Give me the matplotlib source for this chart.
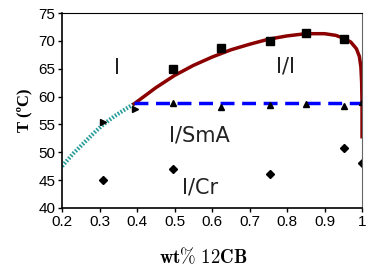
import matplotlib.pyplot as plt
from matplotlib.ticker import FuncFormatter

plt.rcParams["mathtext.fontset"] = "cm"

# measured points
sq_x = [0.495, 0.624, 0.755, 0.85, 0.952]
sq_y = [64.95, 68.7, 69.95, 71.35, 70.4]

tri_x = [0.495, 0.624, 0.755, 0.85, 0.952, 0.999]
tri_y = [58.8, 58.2, 58.5, 58.7, 58.3, 59.0]

rtri_x = [0.308, 0.395]
rtri_y = [55.4, 57.7]

dia_x = [0.31, 0.495, 0.755, 0.952, 0.999]
dia_y = [45.0, 47.0, 46.1, 50.8, 48.0]

# phase boundaries
red_x = [0.392, 0.45, 0.5, 0.55, 0.6, 0.65, 0.7, 0.75, 0.8, 0.85, 0.9, 0.93, 0.95, 0.97,
         0.985, 0.993, 0.997, 0.999, 1.0, 1.0]
red_y = [58.7, 61.6, 63.8, 65.6, 67.1, 68.4, 69.4, 70.3, 70.9, 71.3, 71.3, 71.0, 70.5, 69.8,
         68.6, 67.2, 65.3, 62.5, 58.5, 52.8]

teal_x = [0.2, 0.23, 0.26, 0.29, 0.31, 0.34, 0.37, 0.392]
teal_y = [47.5, 49.8, 51.8, 53.8, 55.0, 56.5, 57.8, 58.7]

smec_x = [0.392, 1.0]
smec_y = [58.8, 58.8]

fig = plt.figure(figsize=(3.74, 2.67), dpi=100)
ax = fig.add_axes([0.166, 0.221, 0.802, 0.730])

ax.plot(teal_x, teal_y, color="#2a9d9d", lw=3, linestyle=(0, (0.4, 0.4)))
ax.plot(red_x, red_y, color="#8b0000", lw=2.5)
ax.plot(smec_x, smec_y, color="#0000ff", lw=2.5, linestyle=(0, (4, 2.2)))

ax.plot(sq_x, sq_y, "s", color="black", ms=5.5)
ax.plot(tri_x, tri_y, "^", color="black", ms=5)
ax.plot(rtri_x, rtri_y, ">", color="black", ms=5)
ax.plot(dia_x, dia_y, "D", color="black", ms=4)

for txt, x, y in [("I", 0.347, 65.1), ("I/I", 0.795, 65.4),
                  ("I/SmA", 0.565, 53.1), ("I/Cr", 0.568, 43.6)]:
    ax.text(x, y, txt, fontsize=15, ha="center", va="center", color="#222222")

ax.set_xlim(0.2, 1.0)
ax.set_ylim(40, 75)
ax.set_xticks([0.2, 0.3, 0.4, 0.5, 0.6, 0.7, 0.8, 0.9, 1.0])
ax.set_yticks(range(40, 80, 5))
ax.xaxis.set_major_formatter(FuncFormatter(lambda v, p: f"{v:g}"))
ax.tick_params(labelsize=11, length=3, width=1, pad=2)
for lab in ax.get_xticklabels() + ax.get_yticklabels():
    lab.set_fontfamily("Liberation Sans")

ax.spines["right"].set_color("#666666")
ax.spines["left"].set_linewidth(1.2)
ax.spines["bottom"].set_linewidth(1.2)

ax.set_xlabel(r"$\mathbf{wt\%\ 12CB}$", fontsize=13.5, labelpad=10)
ax.xaxis.set_label_coords(0.47, -0.2)
ax.set_ylabel("T (ºC)", fontfamily="Liberation Serif", fontweight="bold",
              fontsize=12, labelpad=4)

fig.savefig("out.png", dpi=100)
